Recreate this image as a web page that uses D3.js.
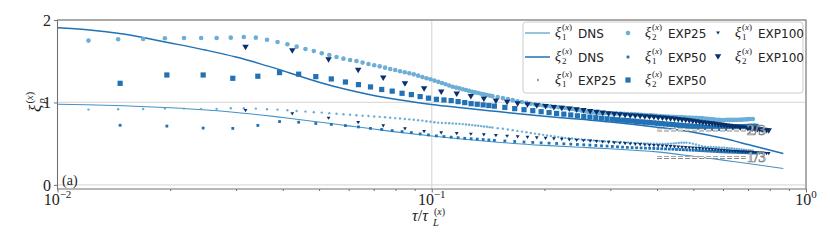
<!doctype html>
<html lang="en">
<head>
<meta charset="UTF-8">
<title>xi_p structure functions</title>
<style>
  body { margin: 0; background: #fff; }
</style>
</head>
<body>
<div class="container"></div>
<script src="https://d3js.org/d3.v7.min.js"></script>
<script>
  const SVG_WIDTH = 830;
  const SVG_HEIGHT = 242;
  const LEFT = 57.5, RIGHT = 806, TOP = 20, BOTTOM = 189;
  const SERIF = '"Liberation Serif", "DejaVu Serif", serif';
  const SANS = '"DejaVu Sans", sans-serif';

  // DNS curves
  const dnsTau = [0.01, 0.012, 0.015, 0.02, 0.025, 0.03, 0.035, 0.04, 0.05, 0.06, 0.07, 0.08,
    0.1, 0.12, 0.15, 0.2, 0.25, 0.3, 0.4, 0.5, 0.6, 0.7, 0.87];
  const dnsXi1 = [0.978, 0.972, 0.960, 0.935, 0.908, 0.878, 0.848, 0.817, 0.762, 0.716, 0.677, 0.643,
    0.592, 0.556, 0.517, 0.479, 0.456, 0.438, 0.400, 0.347, 0.300, 0.260, 0.198];
  const dnsXi2 = [1.907, 1.882, 1.830, 1.722, 1.633, 1.550, 1.465, 1.385, 1.245, 1.150, 1.085, 1.040,
    0.975, 0.935, 0.890, 0.833, 0.795, 0.764, 0.700, 0.638, 0.565, 0.490, 0.380];

  // experiments: time lag index k, tau = k * dt
  const dt25 = 0.00242, dt50 = 0.0049, dt100 = 0.0106;
  const lag25 = [...d3.range(5, 61), ...d3.range(62, 121, 2), ...d3.range(123, 199, 3), ...d3.range(202, 299, 4)];
  const lag50 = [...d3.range(3, 31), ...d3.range(32, 151, 2)];
  const lag100 = d3.range(3, 76);

  const exp25Xi2 = [
    1.750, 1.766, 1.770, 1.778, 1.782, 1.782, 1.782, 1.786, 1.794, 1.786,
    1.760, 1.733, 1.705, 1.677, 1.648, 1.624, 1.596, 1.576, 1.552, 1.531,
    1.515, 1.503, 1.483, 1.467, 1.451, 1.438, 1.422, 1.406, 1.394, 1.378,
    1.366, 1.354, 1.341, 1.325, 1.309, 1.293, 1.281, 1.265, 1.250, 1.235,
    1.220, 1.205, 1.190, 1.180, 1.170, 1.160, 1.150, 1.140, 1.130, 1.122,
    1.114, 1.106, 1.098, 1.090, 1.083, 1.076,
    1.065, 1.052, 1.040, 1.028, 1.015, 1.005, 0.995, 0.985, 0.977, 0.970,
    0.963, 0.957, 0.952, 0.947, 0.942, 0.937, 0.932, 0.927, 0.922, 0.915,
    0.908, 0.900, 0.893, 0.887, 0.882, 0.878, 0.875, 0.873, 0.871, 0.870,
    0.868, 0.867, 0.866, 0.864, 0.862, 0.860, 0.858, 0.856, 0.853, 0.850,
    0.847, 0.845, 0.843, 0.840, 0.838, 0.835, 0.833, 0.830, 0.828, 0.826,
    0.825, 0.824, 0.823, 0.822, 0.820, 0.818,
    0.816, 0.815, 0.814, 0.812, 0.810, 0.806, 0.802, 0.798, 0.794, 0.790,
    0.788, 0.787, 0.787, 0.788, 0.788, 0.789, 0.789, 0.789, 0.790, 0.791,
    0.793, 0.795, 0.797, 0.799, 0.800];
  const exp25Xi1 = [
    0.913, 0.917, 0.921, 0.925, 0.925, 0.921, 0.921, 0.929, 0.929, 0.925,
    0.917, 0.913, 0.905, 0.897, 0.889, 0.881, 0.877, 0.869, 0.863, 0.857,
    0.851, 0.845, 0.840, 0.835, 0.830, 0.825, 0.820, 0.815, 0.810, 0.805,
    0.800, 0.795, 0.790, 0.785, 0.780, 0.772, 0.766, 0.760, 0.755, 0.752,
    0.750, 0.748, 0.746, 0.743, 0.740, 0.737, 0.733, 0.729, 0.725, 0.721,
    0.717, 0.713, 0.709, 0.705, 0.700, 0.696,
    0.688, 0.680, 0.672, 0.664, 0.655, 0.646, 0.638, 0.630, 0.622, 0.614,
    0.607, 0.600, 0.593, 0.586, 0.580, 0.575, 0.570, 0.566, 0.562, 0.558,
    0.555, 0.551, 0.547, 0.544, 0.541, 0.538, 0.535, 0.532, 0.530, 0.528,
    0.526, 0.524, 0.522, 0.520, 0.518, 0.515, 0.512, 0.510, 0.508, 0.506,
    0.504, 0.502, 0.500, 0.499, 0.498, 0.497, 0.497, 0.497, 0.498, 0.500,
    0.503, 0.507, 0.510, 0.512, 0.513, 0.512,
    0.508, 0.500, 0.490, 0.478, 0.468, 0.464, 0.461, 0.460, 0.458, 0.457,
    0.455, 0.452, 0.450, 0.447, 0.445, 0.443, 0.440, 0.437, 0.434, 0.430,
    0.427, 0.423, 0.420, 0.417, 0.414];
  const exp50Xi2 = [
    1.232, 1.333, 1.333, 1.293, 1.318, 1.362, 1.343, 1.313, 1.285, 1.248,
    1.216, 1.188, 1.157, 1.137, 1.111, 1.095, 1.071, 1.052, 1.038, 1.030,
    1.022, 1.010, 0.998, 0.985, 0.978, 0.970, 0.962, 0.955,
    0.940, 0.925, 0.912, 0.900, 0.888, 0.877, 0.867, 0.858, 0.848, 0.838,
    0.830, 0.822, 0.815, 0.808, 0.802, 0.796, 0.790, 0.785, 0.780, 0.775,
    0.770, 0.765, 0.760, 0.756, 0.752, 0.747, 0.743, 0.739, 0.735, 0.731,
    0.727, 0.723, 0.720, 0.716, 0.713, 0.710, 0.706, 0.703, 0.700, 0.697,
    0.694, 0.691, 0.689, 0.687, 0.686, 0.687, 0.689, 0.692, 0.695, 0.698,
    0.700, 0.702, 0.704, 0.706, 0.707, 0.708, 0.709, 0.710, 0.710, 0.710];
  const exp50Xi1 = [
    0.723, 0.713, 0.689, 0.685, 0.721, 0.768, 0.760, 0.745, 0.733, 0.719,
    0.703, 0.685, 0.672, 0.658, 0.646, 0.634, 0.618, 0.606, 0.594, 0.586,
    0.579, 0.572, 0.565, 0.560, 0.555, 0.550, 0.545, 0.540,
    0.533, 0.526, 0.520, 0.515, 0.510, 0.506, 0.502, 0.498, 0.494, 0.490,
    0.486, 0.482, 0.478, 0.474, 0.470, 0.466, 0.462, 0.458, 0.455, 0.452,
    0.450, 0.448, 0.446, 0.444, 0.442, 0.440, 0.438, 0.436, 0.434, 0.432,
    0.430, 0.428, 0.426, 0.424, 0.422, 0.420, 0.418, 0.416, 0.414, 0.412,
    0.410, 0.408, 0.406, 0.404, 0.402, 0.400, 0.399, 0.398, 0.397, 0.396,
    0.395, 0.394, 0.393, 0.392, 0.391, 0.390, 0.389, 0.388, 0.387, 0.386];
  const exp100Xi2 = [
    1.667, 1.624, 1.515, 1.386, 1.293, 1.224, 1.164, 1.123, 1.099, 1.070,
    1.040, 1.014, 0.998, 0.982, 0.970, 0.958, 0.948, 0.937, 0.927, 0.918,
    0.908, 0.898, 0.888, 0.878, 0.869, 0.861, 0.854, 0.848, 0.842, 0.837,
    0.832, 0.828, 0.824, 0.820, 0.816, 0.812, 0.808, 0.804, 0.800, 0.795,
    0.790, 0.785, 0.780, 0.774, 0.768, 0.763, 0.758, 0.752, 0.747, 0.742,
    0.737, 0.732, 0.727, 0.722, 0.717, 0.712, 0.707, 0.703, 0.699, 0.695,
    0.691, 0.687, 0.684, 0.681, 0.678, 0.675, 0.672, 0.669, 0.666, 0.663,
    0.660, 0.657, 0.654];
  const exp100Xi1 = [
    0.900, 0.861, 0.808, 0.755, 0.715, 0.679, 0.646, 0.630, 0.622, 0.614,
    0.606, 0.598, 0.590, 0.583, 0.576, 0.570, 0.564, 0.558, 0.552, 0.546,
    0.540, 0.535, 0.530, 0.525, 0.520, 0.515, 0.510, 0.505, 0.500, 0.496,
    0.492, 0.488, 0.484, 0.480, 0.476, 0.472, 0.469, 0.466, 0.463, 0.460,
    0.457, 0.454, 0.451, 0.448, 0.445, 0.442, 0.439, 0.436, 0.433, 0.430,
    0.427, 0.424, 0.421, 0.418, 0.415, 0.412, 0.410, 0.408, 0.406, 0.404,
    0.402, 0.400, 0.398, 0.396, 0.394, 0.392, 0.390, 0.388, 0.386, 0.384,
    0.382, 0.380, 0.378];

  // reference levels
  const refLevels = [2 / 3, 1 / 3];
  const refLabels = ['2/3', '1/3'];
  const refTau = [0.4, 0.69];

  const yTicks = [0, 1, 2];
  const xTicks = [0.01, 0.1, 1];
  const xTickExp = ['\u22122', '\u22121', '0'];

  const C25 = '#6baed6', C50 = '#2171b5', C100 = '#08306b';
  const CDNS1 = '#4292c6', CDNS2 = '#2171b5';
  const INK = '#222';

  const svg = d3.select('.container')
    .append('svg')
    .attr('width', SVG_WIDTH)
    .attr('height', SVG_HEIGHT)
    .attr('font-family', SERIF);

  const x = d3.scaleLog().domain([0.01, 1]).range([LEFT, RIGHT]);
  const y = d3.scaleLinear().domain([-0.05, 2]).range([BOTTOM, TOP]);

  svg.append('defs').append('clipPath').attr('id', 'clip')
    .append('rect')
    .attr('x', LEFT).attr('y', TOP)
    .attr('width', RIGHT - LEFT).attr('height', BOTTOM - TOP);

  // grid
  const grid = svg.append('g').attr('stroke', '#dcdcdc').attr('stroke-width', 1.3);
  grid.selectAll('.gy').data(yTicks).join('line')
    .attr('x1', LEFT).attr('x2', RIGHT)
    .attr('y1', d => y(d)).attr('y2', d => y(d));
  grid.selectAll('.gx').data(xTicks).join('line')
    .attr('x1', d => x(d)).attr('x2', d => x(d))
    .attr('y1', TOP).attr('y2', BOTTOM);

  const plot = svg.append('g').attr('clip-path', 'url(#clip)');

  const line = d3.line()
    .x(d => x(d[0]))
    .y(d => y(d[1]))
    .curve(d3.curveMonotoneX);

  function drawLine(vals, color, width) {
    plot.append('path')
      .datum(dnsTau.map((t, i) => [t, vals[i]]))
      .attr('d', line)
      .attr('fill', 'none')
      .attr('stroke', color)
      .attr('stroke-width', width);
  }

  function pts(lag, dt, vals) {
    return lag.map((k, i) => [k * dt, vals[i]]);
  }

  function drawCircles(data, r, color) {
    plot.append('g').selectAll('circle').data(data).join('circle')
      .attr('cx', d => x(d[0])).attr('cy', d => y(d[1]))
      .attr('r', r).attr('fill', color);
  }

  function drawSquares(data, s, color) {
    plot.append('g').selectAll('rect').data(data).join('rect')
      .attr('x', d => x(d[0]) - s / 2).attr('y', d => y(d[1]) - s / 2)
      .attr('width', s).attr('height', s).attr('fill', color);
  }

  function triPath(cx, cy, w, h) {
    return `M${cx - w / 2},${cy - h / 2}L${cx + w / 2},${cy - h / 2}L${cx},${cy + h / 2}Z`;
  }

  function drawTriangles(data, w, h, color) {
    plot.append('g').selectAll('path').data(data).join('path')
      .attr('d', d => triPath(x(d[0]), y(d[1]), w, h))
      .attr('fill', color);
  }

  drawLine(dnsXi1, CDNS1, 1.1);
  drawLine(dnsXi2, CDNS2, 1.5);
  drawCircles(pts(lag25, dt25, exp25Xi1), 1.2, C25);
  drawCircles(pts(lag25, dt25, exp25Xi2), 2.3, C25);
  drawSquares(pts(lag50, dt50, exp50Xi1), 2.8, C50);
  drawSquares(pts(lag50, dt50, exp50Xi2), 5.2, C50);
  drawTriangles(pts(lag100, dt100, exp100Xi1), 3.8, 3.2, C100);
  drawTriangles(pts(lag100, dt100, exp100Xi2), 6.5, 5.5, C100);

  // reference lines 2/3 and 1/3
  const refG = svg.append('g');
  refLevels.forEach((lv, i) => {
    refG.append('line')
      .attr('x1', x(refTau[0])).attr('x2', x(refTau[1]))
      .attr('y1', y(lv)).attr('y2', y(lv))
      .attr('stroke', '#8a8a8a').attr('stroke-width', 3)
      .attr('stroke-dasharray', '5,2');
    refG.append('line')
      .attr('x1', x(refTau[0])).attr('x2', x(refTau[1]))
      .attr('y1', y(lv)).attr('y2', y(lv))
      .attr('stroke', '#fff').attr('stroke-width', 1.2)
      .attr('stroke-dasharray', '5,2');
    refG.append('text')
      .attr('x', x(refTau[1]) + 1).attr('y', y(lv) + 5)
      .attr('font-size', 15)
      .attr('fill', '#fff').attr('stroke', '#808080').attr('stroke-width', 0.7)
      .text(refLabels[i]);
  });

  // spines
  svg.append('rect')
    .attr('x', LEFT).attr('y', TOP)
    .attr('width', RIGHT - LEFT).attr('height', BOTTOM - TOP)
    .attr('fill', 'none').attr('stroke', '#707070').attr('stroke-width', 1);

  // y axis
  const yAxisGroup = svg.append('g').attr('transform', `translate(${LEFT},0)`);
  yAxisGroup.call(d3.axisLeft(y).tickValues(yTicks).tickSize(3.5).tickPadding(3).tickFormat(d3.format('d')));
  yAxisGroup.select('.domain').remove();
  yAxisGroup.selectAll('line').attr('stroke', '#707070');
  yAxisGroup.selectAll('text')
    .attr('font-family', SERIF)
    .attr('font-size', 16).attr('fill', INK);

  // x axis: minor + major ticks
  const xAxisGroup = svg.append('g').attr('transform', `translate(0,${BOTTOM})`);
  const minor = x.ticks().filter(t => !xTicks.includes(t));
  xAxisGroup.call(d3.axisBottom(x).tickValues(minor).tickSize(2).tickFormat(''));
  xAxisGroup.select('.domain').remove();
  const xMajor = svg.append('g').attr('transform', `translate(0,${BOTTOM})`);
  xMajor.call(d3.axisBottom(x).tickValues(xTicks).tickSize(3.5).tickFormat(''));
  xMajor.select('.domain').remove();
  svg.selectAll('.tick line').attr('stroke', '#707070');

  xTicks.forEach((t, i) => {
    const tx = svg.append('text')
      .attr('x', x(t)).attr('y', 205)
      .attr('text-anchor', 'middle')
      .attr('font-size', 16).attr('fill', INK);
    tx.append('tspan').text('10');
    tx.append('tspan').attr('dy', -7).attr('font-size', 11).text(xTickExp[i]);
  });

  // x label
  const xl = svg.append('text')
    .attr('x', 412).attr('y', 221)
    .attr('font-size', 16).attr('fill', INK);
  xl.append('tspan').attr('font-style', 'italic').text('\u03c4');
  xl.append('tspan').text('/');
  xl.append('tspan').attr('font-style', 'italic').text('\u03c4');
  svg.append('text').attr('x', 433).attr('y', 226).attr('font-size', 10.5)
    .attr('font-style', 'italic').attr('fill', INK).text('L');
  const xs = svg.append('text').attr('x', 434).attr('y', 215).attr('font-size', 10).attr('fill', INK);
  xs.append('tspan').text('(');
  xs.append('tspan').attr('font-style', 'italic').text('x');
  xs.append('tspan').text(')');

  // y label (rotated)
  const yl = svg.append('g').attr('transform', 'translate(41,112) rotate(-90)');
  yl.append('text').attr('x', 0).attr('y', 0).attr('font-size', 17)
    .attr('font-style', 'italic').attr('fill', INK).text('\u03be');
  yl.append('text').attr('x', 8.5).attr('y', 4).attr('font-size', 10.5)
    .attr('font-style', 'italic').attr('fill', INK).text('p');
  const ys = yl.append('text').attr('x', 8.5).attr('y', -8).attr('font-size', 10.5).attr('fill', INK);
  ys.append('tspan').text('(');
  ys.append('tspan').attr('font-style', 'italic').text('x');
  ys.append('tspan').text(')');

  // panel tag
  svg.append('text').attr('x', 62).attr('y', 185).attr('font-size', 14).attr('fill', INK).text('(a)');

  // legend
  const legend = svg.append('g');
  legend.append('rect')
    .attr('x', 523).attr('y', 22).attr('width', 280).attr('height', 71)
    .attr('rx', 3).attr('fill', '#fff').attr('fill-opacity', 0.8)
    .attr('stroke', '#cccccc').attr('stroke-width', 1);

  const entries = [
    { sub: '1', name: 'DNS', kind: 'line', color: CDNS1, w: 1.1 },
    { sub: '2', name: 'DNS', kind: 'line', color: CDNS2, w: 1.5 },
    { sub: '1', name: 'EXP25', kind: 'circle', color: C25, r: 1.2 },
    { sub: '2', name: 'EXP25', kind: 'circle', color: C25, r: 2.3 },
    { sub: '1', name: 'EXP50', kind: 'square', color: C50, s: 2.8 },
    { sub: '2', name: 'EXP50', kind: 'square', color: C50, s: 5.2 },
    { sub: '1', name: 'EXP100', kind: 'tri', color: C100, w: 3.8, h: 3.2 },
    { sub: '2', name: 'EXP100', kind: 'tri', color: C100, w: 6.5, h: 5.5 }
  ];
  const colX = [525, 615, 705];
  const rowY = [33, 57, 80];

  entries.forEach((e, i) => {
    const cx0 = colX[Math.floor(i / 3)];
    const cy = rowY[i % 3];
    const mx = cx0 + 13;
    if (e.kind === 'line') {
      legend.append('line').attr('x1', cx0).attr('x2', cx0 + 25)
        .attr('y1', cy).attr('y2', cy).attr('stroke', e.color).attr('stroke-width', e.w);
    } else if (e.kind === 'circle') {
      legend.append('circle').attr('cx', mx).attr('cy', cy).attr('r', e.r).attr('fill', e.color);
    } else if (e.kind === 'square') {
      legend.append('rect').attr('x', mx - e.s / 2).attr('y', cy - e.s / 2)
        .attr('width', e.s).attr('height', e.s).attr('fill', e.color);
    } else {
      legend.append('path').attr('d', triPath(mx, cy, e.w, e.h)).attr('fill', e.color);
    }
    const tx = cx0 + 30;
    legend.append('text').attr('x', tx).attr('y', cy + 4).attr('font-size', 14)
      .attr('font-style', 'italic').attr('fill', INK).text('\u03be');
    legend.append('text').attr('x', tx + 7).attr('y', cy + 7).attr('font-size', 9)
      .attr('fill', INK).text(e.sub);
    const sp = legend.append('text').attr('x', tx + 7).attr('y', cy - 3).attr('font-size', 9).attr('fill', INK);
    sp.append('tspan').text('(');
    sp.append('tspan').attr('font-style', 'italic').text('x');
    sp.append('tspan').text(')');
    legend.append('text').attr('x', tx + 23).attr('y', cy + 4.5)
      .attr('font-family', SANS).attr('font-size', 12)
      .attr('fill', INK).text(e.name);
  });
</script>
</body>
</html>
